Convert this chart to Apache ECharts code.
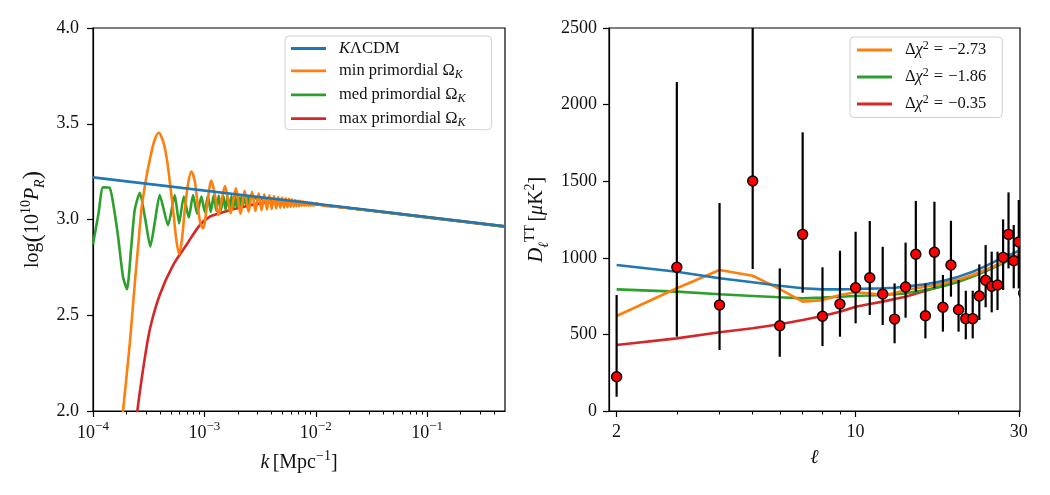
<!DOCTYPE html>
<html>
<head>
<meta charset="utf-8">
<script src="https://cdn.jsdelivr.net/npm/echarts@6/dist/echarts.min.js"></script>
<style>
  html, body { margin: 0; padding: 0; background: #fff; }
  #chart { width: 1050px; height: 495px; }
</style>
</head>
<body>
<div id="chart"></div>
<script>
// ---- left panel: log(1e10 P_R) against k [Mpc^-1] ----
const kBlue = [1e-4, 1e-2, 0.5];
const pBlue = [3.220, 3.082, 2.965];

const kOrange = [1.70e-4, 1.86e-4, 2.00e-4, 2.14e-4, 2.27e-4, 2.40e-4, 2.56e-4, 2.72e-4, 2.97e-4, 3.23e-4,
  3.55e-4, 3.89e-4, 4.25e-4, 4.62e-4, 4.93e-4, 5.24e-4, 5.58e-4, 5.93e-4, 6.30e-4, 6.67e-4,
  7.15e-4, 7.64e-4, 8.20e-4, 8.70e-4, 9.20e-4, 9.73e-4, 1.06e-3, 1.155e-3, 1.25e-3, 1.34e-3,
  1.43e-3, 1.53e-3, 1.62e-3, 1.72e-3, 1.82e-3, 1.92e-3, 2.01e-3, 2.11e-3, 2.20e-3, 2.30e-3,
  2.49e-3, 2.68e-3, 2.87e-3, 3.07e-3, 3.26e-3, 3.45e-3, 3.64e-3, 3.83e-3, 4.02e-3, 4.22e-3,
  4.41e-3, 4.60e-3, 4.79e-3, 4.98e-3, 5.18e-3, 5.37e-3, 5.56e-3, 5.75e-3, 5.94e-3, 6.13e-3,
  6.33e-3, 6.52e-3, 6.71e-3, 6.90e-3, 7.09e-3, 7.28e-3, 7.48e-3, 7.67e-3, 7.86e-3, 8.05e-3,
  8.24e-3, 8.43e-3, 8.63e-3, 8.82e-3, 9.01e-3, 9.20e-3, 9.39e-3, 9.58e-3, 9.78e-3, 9.97e-3,
  1.2e-2, 1.5e-2, 2e-2, 5e-2, 0.1, 0.5];
const pOrange = [1.75, 2.00, 2.18, 2.354, 2.53, 2.70, 2.88, 3.05, 3.20, 3.31,
  3.41, 3.453, 3.41, 3.31, 3.18, 3.05, 2.90, 2.82, 2.90, 3.05,
  3.19, 3.25, 3.20, 3.08, 2.98, 2.955, 3.08, 3.203, 3.12, 3.024,
  3.10, 3.175, 3.11, 3.032, 3.10, 3.163, 3.10, 3.03, 3.09, 3.15,
  3.04, 3.144, 3.044, 3.137, 3.048, 3.132, 3.052, 3.127, 3.055, 3.122,
  3.059, 3.117, 3.061, 3.114, 3.063, 3.111, 3.065, 3.108, 3.067, 3.105,
  3.068, 3.102, 3.069, 3.099, 3.070, 3.097, 3.071, 3.095, 3.071, 3.093,
  3.072, 3.091, 3.072, 3.089, 3.073, 3.088, 3.073, 3.085, 3.073, 3.084,
  3.071, 3.067, 3.060, 3.034, 3.013, 2.965];

const kGreen = [1.00e-4, 1.12e-4, 1.23e-4, 1.41e-4, 1.55e-4, 1.68e-4, 1.86e-4, 2.02e-4, 2.20e-4, 2.37e-4,
  2.63e-4, 2.95e-4, 3.27e-4, 3.62e-4, 3.97e-4, 4.72e-4, 5.42e-4, 5.93e-4, 6.53e-4, 7.24e-4,
  7.91e-4, 8.60e-4, 9.40e-4, 1.008e-3, 1.075e-3, 1.14e-3, 1.21e-3, 1.28e-3, 1.345e-3, 1.41e-3,
  1.48e-3, 1.55e-3, 1.615e-3, 1.68e-3, 1.75e-3, 1.82e-3, 1.885e-3, 1.95e-3, 2.02e-3, 2.09e-3,
  2.155e-3, 2.22e-3, 2.29e-3, 2.36e-3, 2.425e-3, 2.49e-3, 2.56e-3, 3.0e-3, 5.0e-3, 1e-2, 0.1, 0.5];
const pGreen = [2.87, 3.03, 3.168, 3.165, 3.05, 2.91, 2.70, 2.636, 2.85, 3.05,
  3.14, 3.00, 2.858, 3.00, 3.128, 2.97, 3.128, 2.98, 3.12, 3.01,
  3.128, 3.03, 3.12, 3.04, 3.125, 3.04, 3.125, 3.045, 3.125, 3.048,
  3.124, 3.05, 3.123, 3.055, 3.123, 3.06, 3.122, 3.065, 3.122, 3.07,
  3.121, 3.075, 3.12, 3.08, 3.12, 3.085, 3.118, 3.108, 3.100, 3.080, 3.011, 2.963];

const kRed = [2.40e-4, 2.50e-4, 2.81e-4, 3.23e-4, 3.97e-4, 5.24e-4, 6.89e-4, 9.10e-4, 1.12e-3, 1.37e-3,
  1.70e-3, 2.10e-3, 2.60e-3, 3.50e-3, 5.0e-3, 1e-2, 0.1, 0.5];
const pRed = [1.90, 2.00, 2.214, 2.423, 2.606, 2.762, 2.867, 2.971, 3.015, 3.032,
  3.050, 3.062, 3.075, 3.088, 3.094, 3.080, 3.011, 2.963];

const kMajor = [1e-4, 1e-3, 1e-2, 1e-1];
const kMinor = [2e-4, 3e-4, 4e-4, 5e-4, 6e-4, 7e-4, 8e-4, 9e-4,
  2e-3, 3e-3, 4e-3, 5e-3, 6e-3, 7e-3, 8e-3, 9e-3,
  2e-2, 3e-2, 4e-2, 5e-2, 6e-2, 7e-2, 8e-2, 9e-2, 0.2, 0.3, 0.4];

// ---- right panel: D_ell^TT against ell ----
const ellModel = [2, 3, 4, 5, 6, 7, 8, 9, 10, 11, 12, 13, 14, 16, 18, 20, 22, 24, 26, 28, 30];
const dBlue   = [953, 909, 866, 840, 818, 801, 794, 794, 796, 799, 801, 805, 812, 827, 849, 877, 909, 946, 985, 1015, 1045];
const dOrange = [620, 801, 920, 883, 795, 714, 724, 757, 775, 768, 757, 768, 790, 811, 833, 859, 888, 922, 955, 990, 1020];
const dGreen  = [794, 779, 762, 751, 742, 735, 740, 746, 751, 754, 757, 762, 768, 790, 815, 845, 877, 912, 948, 982, 1015];
const dRed    = [431, 474, 514, 540, 566, 594, 620, 648, 681, 698, 714, 731, 746, 785, 816, 844, 881, 918, 955, 985, 1005];

const ellData = [2, 3, 4, 5, 6, 7, 8, 9, 10, 11, 12, 13, 14, 15, 16, 17, 18, 19, 20, 21, 22, 23, 24, 25, 26, 27, 28, 29, 30, 31];
const clData  = [224, 938, 692, 1501, 557, 1153, 618, 698, 805, 870, 764, 600, 809, 1023, 622, 1036, 677, 953, 661, 603, 603, 751, 853, 814, 822, 1003, 1153, 981, 1103, 768];
const clLow   = [93, 485, 398, 927, 354, 772, 424, 485, 572, 627, 561, 442, 609, 779, 474, 801, 518, 746, 518, 468, 474, 594, 677, 644, 659, 790, 931, 801, 800, 600];
const clHigh  = [757, 2147, 1358, 2700, 931, 1819, 938, 1046, 1170, 1240, 1072, 833, 1099, 1371, 833, 1366, 888, 1242, 855, 785, 785, 957, 1083, 1040, 1040, 1251, 1427, 1214, 1377, 1100];

const ellMajor = [2, 10, 30];
const ellMinor = [3, 4, 5, 6, 7, 8, 9, 20];

const C = { blue: '#1f77b4', orange: '#ff7f0e', green: '#2ca02c', red: '#d62728' };
const FONT = "'Liberation Serif', 'DejaVu Serif', serif";
const INK = '#111';
const LW = 2.6;

const lg10 = Math.log10;
const pairs = (xs, ys) => xs.map((x, i) => [lg10(x), ys[i]]);

// rich text pieces for tex-like labels
const tick = {
  n: { fontFamily: FONT, fontSize: 18, color: INK, lineHeight: 26 },
  sup: { fontFamily: FONT, fontSize: 13, color: INK, lineHeight: 13, verticalAlign: 'top' }
};
const nameRich = {
  nm: { fontFamily: FONT, fontSize: 20, color: INK, lineHeight: 28 },
  nmi: { fontFamily: FONT, fontSize: 20, fontStyle: 'italic', color: INK, lineHeight: 28 },
  np: { fontFamily: FONT, fontSize: 25, color: INK, lineHeight: 28 },
  nsup: { fontFamily: FONT, fontSize: 14, color: INK, lineHeight: 14, verticalAlign: 'top' },
  nsub: { fontFamily: FONT, fontSize: 14, fontStyle: 'italic', color: INK, lineHeight: 14, verticalAlign: 'bottom' }
};
const legRich = {
  g: { fontFamily: FONT, fontSize: 16.5, color: INK, lineHeight: 20 },
  gq: { fontFamily: FONT, fontSize: 16.5, color: INK, lineHeight: 20, padding: [0, 5, 0, 5] },
  gp: { fontFamily: FONT, fontSize: 16.5, color: INK, lineHeight: 20, padding: [0, 0, 0, 8] },
  gi: { fontFamily: FONT, fontSize: 16.5, fontStyle: 'italic', color: INK, lineHeight: 20 },
  gpi: { fontFamily: FONT, fontSize: 16.5, fontStyle: 'italic', color: INK, lineHeight: 20, padding: [0, 0, 0, 8] },
  gsub: { fontFamily: FONT, fontSize: 12, fontStyle: 'italic', color: INK, lineHeight: 12, verticalAlign: 'bottom' },
  gsup: { fontFamily: FONT, fontSize: 12, color: INK, lineHeight: 12, verticalAlign: 'top' }
};

const leftNames = ['KΛCDM', 'min primordial ΩK', 'med primordial ΩK', 'max primordial ΩK'];
const rightNames = ['Δχ2 = −2.73', 'Δχ2 = −1.86', 'Δχ2 = −0.35'];
const legendText = {
  'KΛCDM': '{gpi|K}{g|ΛCDM}',
  'min primordial ΩK': '{gp|min primordial Ω}{gsub|K}',
  'med primordial ΩK': '{gp|med primordial Ω}{gsub|K}',
  'max primordial ΩK': '{gp|max primordial Ω}{gsub|K}',
  'Δχ2 = −2.73': '{gp|Δ}{gi|χ}{gsup|2}{gq|=}{g|−2.73}',
  'Δχ2 = −1.86': '{gp|Δ}{gi|χ}{gsup|2}{gq|=}{g|−1.86}',
  'Δχ2 = −0.35': '{gp|Δ}{gi|χ}{gsup|2}{gq|=}{g|−0.35}'
};

const frameAxis = {
  axisLine: { show: true, onZero: false, lineStyle: { color: '#000', width: 1.2 } },
  splitLine: { show: false }
};

const legendBase = {
  orient: 'vertical',
  icon: 'rect',
  itemWidth: 35,
  itemHeight: 2.8,
  backgroundColor: 'rgba(255,255,255,0.85)',
  borderColor: '#d0d0d0',
  borderWidth: 1,
  borderRadius: 4,
  textStyle: { rich: legRich },
  formatter: name => legendText[name]
};

const lineSeries = (name, data, color, xi, yi, smooth) => ({
  name, type: 'line', xAxisIndex: xi, yAxisIndex: yi, data,
  showSymbol: false, symbol: 'none', smooth: smooth || false, clip: true,
  lineStyle: { color, width: LW }, itemStyle: { color }
});

const chart = echarts.init(document.getElementById('chart'), null, { renderer: 'canvas' });

chart.setOption({
  animation: false,
  backgroundColor: '#fff',
  grid: [
    { left: 93, top: 28, width: 412, height: 383, show: true, borderColor: '#000', borderWidth: 1.2, containLabel: false },
    { left: 609, top: 28, width: 411, height: 383, show: true, borderColor: '#000', borderWidth: 1.2, containLabel: false }
  ],
  legend: [
    Object.assign({}, legendBase, { data: leftNames, left: 285, top: 36, itemGap: 5.4, padding: [4, 26, 1, 6] }),
    Object.assign({}, legendBase, { data: rightNames, left: 850, top: 37, itemGap: 8.5, padding: [3, 16, 5, 7] })
  ],
  xAxis: [
    Object.assign({}, frameAxis, {
      type: 'value', gridIndex: 0, position: 'bottom', min: -4, max: lg10(0.5),
      name: '{nmi|k} {nm|[Mpc}{nsup|−1}{nm|]}', nameLocation: 'middle', nameGap: 38,
      nameTextStyle: { rich: nameRich },
      axisTick: { show: true, length: 6, customValues: kMajor.map(lg10), lineStyle: { color: '#000', width: 1.2 } },
      axisLabel: {
        customValues: kMajor.map(lg10), margin: 9, rich: tick,
        formatter: v => '{n|10}{sup|−' + Math.round(-v) + '}'
      }
    }),
    {
      type: 'value', gridIndex: 0, position: 'bottom', min: -4, max: lg10(0.5),
      axisLine: { show: false }, splitLine: { show: false }, axisLabel: { show: false },
      axisTick: { show: true, length: 3.5, customValues: kMinor.map(lg10), lineStyle: { color: '#000', width: 1 } }
    },
    Object.assign({}, frameAxis, {
      type: 'value', gridIndex: 1, position: 'bottom', min: lg10(1.9), max: lg10(30.25),
      name: '{nmi|ℓ}', nameLocation: 'middle', nameGap: 33,
      nameTextStyle: { rich: nameRich },
      axisTick: { show: true, length: 6, customValues: ellMajor.map(lg10), lineStyle: { color: '#000', width: 1.2 } },
      axisLabel: {
        customValues: ellMajor.map(lg10), margin: 12, fontFamily: FONT, fontSize: 18, color: INK,
        formatter: v => String(Math.round(Math.pow(10, v)))
      }
    }),
    {
      type: 'value', gridIndex: 1, position: 'bottom', min: lg10(1.9), max: lg10(30.25),
      axisLine: { show: false }, splitLine: { show: false }, axisLabel: { show: false },
      axisTick: { show: true, length: 3.5, customValues: ellMinor.map(lg10), lineStyle: { color: '#000', width: 1 } }
    }
  ],
  yAxis: [
    Object.assign({}, frameAxis, {
      type: 'value', gridIndex: 0, min: 2, max: 4, interval: 0.5,
      name: '{nm|log}{np|(}{nm|10}{nsup|10}{nmi|P}{nsub|R}{np|)}', nameLocation: 'middle', nameGap: 46, nameRotate: 90,
      nameTextStyle: { rich: nameRich },
      axisTick: { show: true, length: 6, lineStyle: { color: '#000', width: 1.2 } },
      axisLabel: { margin: 14, fontFamily: FONT, fontSize: 18, color: INK, formatter: v => v.toFixed(1) }
    }),
    Object.assign({}, frameAxis, {
      type: 'value', gridIndex: 1, min: 0, max: 2500, interval: 500,
      name: '{nmi|D}{nsub|ℓ}{nsup|TT} {nm|[}{nmi|μ}{nm|K}{nsup|2}{nm|]}', nameLocation: 'middle', nameGap: 58, nameRotate: 90,
      nameTextStyle: { rich: nameRich },
      axisTick: { show: true, length: 6, lineStyle: { color: '#000', width: 1.2 } },
      axisLabel: { margin: 12, fontFamily: FONT, fontSize: 18, color: INK, formatter: v => String(v) }
    })
  ],
  series: [
    // left panel, blue drawn last so it sits on top
    lineSeries('max primordial ΩK', pairs(kRed, pRed), C.red, 0, 0, 0.3),
    lineSeries('med primordial ΩK', pairs(kGreen, pGreen), C.green, 0, 0, 0.2),
    lineSeries('min primordial ΩK', pairs(kOrange, pOrange), C.orange, 0, 0, 0.3),
    lineSeries('KΛCDM', pairs(kBlue, pBlue), C.blue, 0, 0),
    // right panel
    lineSeries('Δχ2 = −0.35', pairs(ellModel, dRed), C.red, 2, 1),
    lineSeries('Δχ2 = −1.86', pairs(ellModel, dGreen), C.green, 2, 1),
    lineSeries('Δχ2 = −2.73', pairs(ellModel, dOrange), C.orange, 2, 1),
    lineSeries('ΛCDM best fit', pairs(ellModel, dBlue), C.blue, 2, 1),
    {
      name: 'data', type: 'custom', xAxisIndex: 2, yAxisIndex: 1, clip: true, z: 5,
      data: ellData.map((l, i) => [lg10(l), clData[i], clLow[i], clHigh[i]]),
      renderItem: (params, api) => {
        const x = api.value(0);
        const top = api.coord([x, api.value(3)]);
        const bot = api.coord([x, api.value(2)]);
        const c = api.coord([x, api.value(1)]);
        return {
          type: 'group',
          children: [
            { type: 'line', shape: { x1: top[0], y1: top[1], x2: bot[0], y2: bot[1] },
              style: { stroke: '#000', lineWidth: 2.2 } },
            { type: 'circle', shape: { cx: c[0], cy: c[1], r: 5 },
              style: { fill: '#ff0000', stroke: '#000', lineWidth: 1.4 } }
          ]
        };
      }
    }
  ]
});
</script>
</body>
</html>
